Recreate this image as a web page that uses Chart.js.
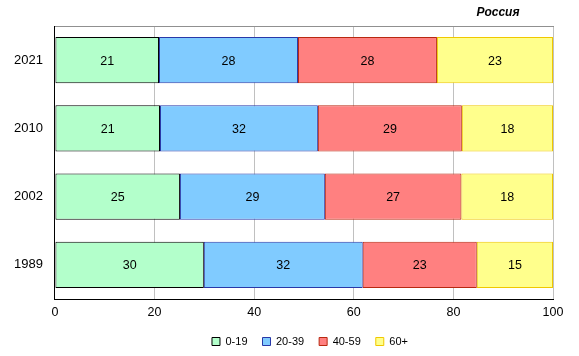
<!DOCTYPE html>
<html><head><meta charset="utf-8">
<script src="https://cdn.jsdelivr.net/npm/chart.js@4/dist/chart.umd.min.js"></script>
<style>html,body{margin:0;padding:0;background:#fff}</style>
</head><body>
<canvas id="c" width="579" height="356"></canvas>
<script>
const categories = ['2021', '2010', '2002', '1989'];
const seriesNames = ['0-19', '20-39', '40-59', '60+'];
const age0_19 = [20.9, 21.1, 25.1, 29.9];
const age20_39 = [27.9, 31.7, 29.1, 31.9];
const age40_59 = [27.9, 28.9, 27.4, 22.9];
const age60p = [23.3, 18.3, 18.4, 15.3];
const xTicks = [0, 20, 40, 60, 80, 100];
const titleText = 'Россия';

const FONT = "'Liberation Sans', Arial, sans-serif";
const fills = ['#B3FFCB', '#80CBFF', '#FF8080', '#FFFF8C'];
const borders = ['#000000', '#2838A8', '#B82810', '#F0C800'];
const values = [age0_19, age20_39, age40_59, age60p];

const labelPlugin = {
  id: 'barLabels',
  afterDatasetsDraw(chart) {
    const ctx = chart.ctx;
    ctx.save();
    ctx.font = '12.5px ' + FONT;
    ctx.fillStyle = '#000';
    ctx.textAlign = 'center';
    ctx.textBaseline = 'middle';
    chart.data.datasets.forEach((ds, di) => {
      chart.getDatasetMeta(di).data.forEach((bar, i) => {
        const p = bar.getProps(['x', 'y', 'base'], true);
        ctx.fillText(String(Math.round(ds.data[i])), (p.x + p.base) / 2, p.y + 1);
      });
    });
    ctx.restore();
  }
};
const titlePlugin = {
  id: 'cornerTitle',
  afterLayout(chart) {
    const lg = chart.legend;
    if (lg) {
      lg.left = chart.chartArea.left + 2;
      lg.right = chart.chartArea.right + 10;
    }
  },
  afterDraw(chart) {
    const ctx = chart.ctx;
    ctx.save();
    ctx.font = 'italic bold 12px ' + FONT;
    ctx.fillStyle = '#000';
    ctx.textAlign = 'center';
    ctx.textBaseline = 'middle';
    ctx.fillText(titleText, chart.chartArea.right - 55, 13);
    ctx.restore();
  }
};

new Chart(document.getElementById('c'), {
  type: 'bar',
  data: {
    labels: categories,
    datasets: seriesNames.map((n, k) => ({
      label: n,
      data: values[k],
      backgroundColor: fills[k],
      borderColor: borders[k],
      borderWidth: 1,
      borderSkipped: false,
      barPercentage: 0.68,
      categoryPercentage: 1
    }))
  },
  options: {
    indexAxis: 'y',
    responsive: false,
    animation: false,
    layout: { padding: { top: 26, right: 26, left: 2, bottom: -1 } },
    scales: {
      x: {
        stacked: true, min: 0, max: 100,
        afterBuildTicks: s => { s.ticks = xTicks.map(v => ({ value: v })); },
        afterFit: s => { s.height -= 5; },
        grid: { color: '#C0C0C0', drawTicks: false, lineWidth: 1 },
        border: { display: true, color: '#000', width: 1 },
        ticks: { color: '#000', font: { family: FONT, size: 12.5 }, padding: 6 }
      },
      x2: {
        position: 'top', min: 0, max: 100,
        grid: { display: false, drawTicks: false },
        border: { display: true, color: '#909090', width: 1 },
        ticks: { display: false }
      },
      y: {
        stacked: true,
        grid: { display: false, drawTicks: false },
        border: { display: true, color: '#000', width: 1 },
        ticks: { color: '#000', font: { family: FONT, size: 13 }, padding: 12 }
      }
    },
    plugins: {
      legend: {
        position: 'bottom',
        labels: {
          boxWidth: 8, boxHeight: 8, padding: 15,
          color: '#000', font: { family: FONT, size: 11 },
          generateLabels: chart => chart.data.datasets.map((d, i) => ({
            text: d.label, fillStyle: d.backgroundColor, strokeStyle: d.borderColor,
            lineWidth: 1, datasetIndex: i, hidden: false
          }))
        }
      },
      tooltip: { enabled: false },
      title: { display: false }
    }
  },
  plugins: [labelPlugin, titlePlugin]
});
</script>
</body></html>
